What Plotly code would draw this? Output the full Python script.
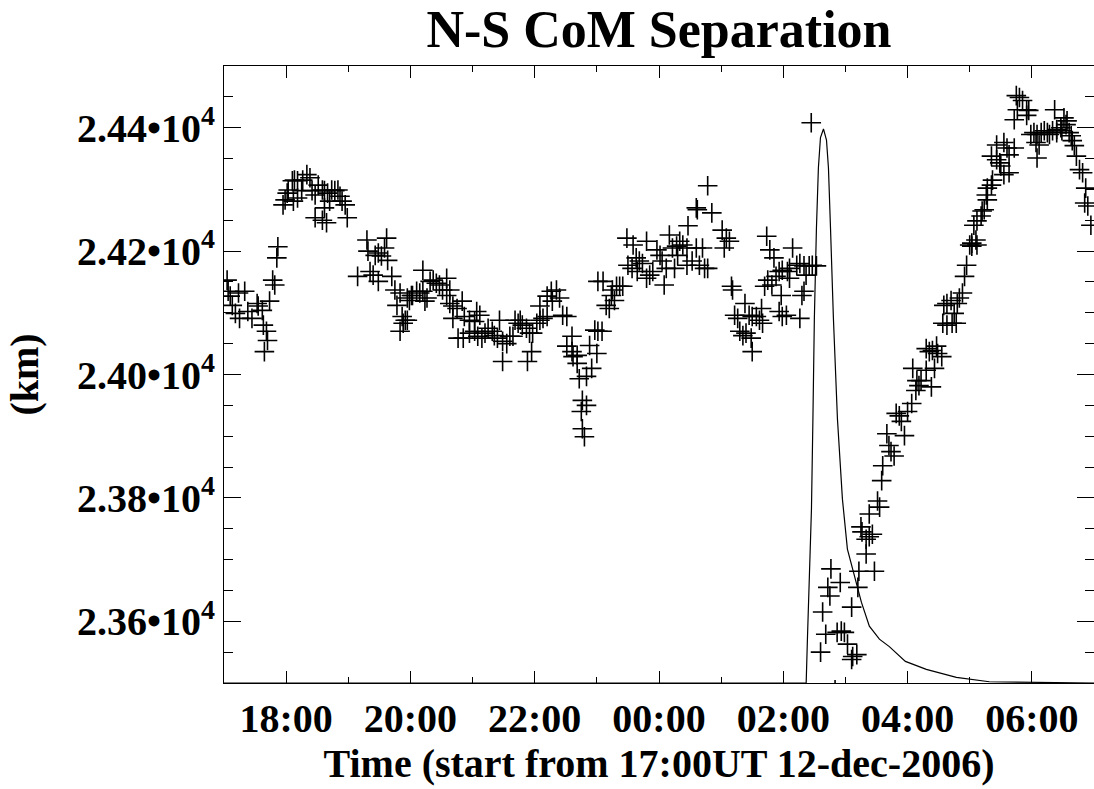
import pandas as pd
import plotly.graph_objects as go

START = pd.Timestamp("2006-12-12 17:00")

# N-S centre-of-mass separation samples: minutes after 17:00 UT, value in km
sep_minutes = [
    3, 4, 6, 14, 20, 8, 11, 15, 23, 27, 32, 33, 37, 38, 41, 42, 39, 44, 47, 49, 51, 52,
    57, 59, 61, 62, 66, 68, 71, 76, 80, 83, 67, 71, 75, 85, 88, 91, 95, 97, 100, 104,
    107, 110, 112, 114, 117, 97, 88, 95, 99, 119, 102,
    138, 139, 146, 149, 152, 157, 155, 158, 129, 141, 144, 149, 162, 165, 167, 172,
    175, 177, 170, 181, 179,
    173, 170, 177, 182, 186, 189, 192, 196, 194, 192, 199, 202, 205, 208, 215, 211,
    218, 215, 218, 221, 225, 230, 221, 232, 237, 244, 247, 242, 226, 231, 237, 242,
    245, 249, 252, 255, 259, 261, 264, 266, 269, 273, 276, 279, 281, 284, 286, 288,
    292, 295, 298, 269, 293, 297, 302, 305, 308, 312, 305, 312, 316, 321, 317, 324,
    327, 331, 336, 331, 336, 337, 341, 341, 343, 350, 355, 353, 360, 358, 361, 346,
    350, 345, 346, 348,
    361, 365, 366, 369, 372, 374, 375, 379, 382, 385, 377, 389, 395, 390, 394, 398,
    401, 404, 408, 399, 408, 411, 414, 418, 421, 423, 427, 425, 430, 433, 437, 438,
    440, 443, 447, 435, 447, 452, 448, 456, 457, 471, 467, 456, 462, 459, 464, 467,
    481, 485, 488, 483, 490, 491, 503, 493, 496, 498, 501, 504, 509, 507, 510, 514,
    517, 520, 519, 510, 522, 525, 529, 533, 536, 539, 538, 536, 539, 524, 527, 531,
    549, 544, 546, 553, 556, 560, 565, 568, 572, 546, 556, 558, 560, 562, 543, 567,
    578, 586, 595, 583, 585, 612, 606, 581, 592, 596, 599, 602, 576, 607, 611, 606, 590,
    631, 633, 623, 615, 616, 623, 626, 620, 620, 613, 628,
    635, 636, 640, 642, 644, 647, 657, 649, 652, 654, 660, 664, 665, 668, 671, 669,
    673, 678, 683, 686, 678, 681, 684, 688, 689, 693, 694, 698, 703, 707, 695, 698,
    702, 705, 708, 713, 715, 717, 722, 722, 727, 726, 724, 727, 731, 734, 737,
    710, 720, 732, 736, 737, 741, 742,
    741, 746, 749, 750, 753, 758, 746, 753, 756, 763, 758, 763, 766, 765, 768, 771,
    775, 777, 775, 779, 782, 785, 789, 792, 795, 797, 800, 804, 804, 808, 809, 813,
    811, 802, 814, 816, 818, 819, 821, 823, 826, 829, 832, 831, 834, 837, 784, 787, 785,
]
sep_km = [
    24153, 24135, 24127, 24132, 24135, 24112, 24099, 24091, 24102, 24091, 24115, 24111,
    24104, 24080, 24070, 24055, 24037, 24119, 24153, 24145, 24189, 24207,
    24275, 24283, 24294, 24299, 24314, 24315, 24314, 24315, 24324, 24319, 24281, 24286,
    24298, 24298, 24291, 24307, 24299, 24298, 24294, 24299, 24298, 24299, 24289, 24281,
    24275, 24270, 24254, 24250, 24246, 24254, 24281,
    24218, 24200, 24193, 24197, 24192, 24221, 24205, 24185, 24159, 24167, 24161, 24151,
    24159, 24137, 24112, 24094, 24088, 24088, 24070, 24128, 24120,
    24083, 24132, 24124, 24128, 24135, 24132, 24135, 24124, 24119, 24169, 24151, 24153,
    24148, 24145, 24156, 24137, 24137, 24128, 24115, 24111, 24107, 24119, 24091, 24094,
    24088, 24102, 24096, 24086, 24059, 24059, 24067, 24070, 24062, 24059, 24067, 24075,
    24070, 24063, 24059, 24088, 24054, 24050, 24062, 24062, 24088, 24083, 24088, 24080,
    24075, 24067, 24067, 24021, 24021, 24037, 24083, 24088, 24091, 24094, 24111, 24127,
    24135, 24137, 24119, 24124, 24096, 24094, 24062, 24046, 24037, 24029, 24031, 24018,
    23993, 23997, 24010, 24047, 24034, 24072, 24151, 23958, 23950, 23940, 23912, 23899,
    24070, 24070, 24151, 24112, 24107, 24128, 24137, 24143, 24143, 24143, 24120, 24221,
    24210, 24177, 24172, 24189, 24184, 24180, 24216, 24167, 24156, 24161, 24167, 24202,
    24193, 24184, 24172, 24145, 24226, 24205, 24208, 24193, 24216, 24210, 24205, 24172,
    24177, 24184, 24241, 24270, 24267, 24262, 24306, 24205, 24205, 24177, 24172, 24172,
    24234, 24221, 24216, 24205, 24143, 24137, 24115, 24096, 24091, 24070, 24063, 24067,
    24059, 24096, 24094, 24094, 24088, 24083, 24107, 24037, 24143, 24153, 24145, 24159,
    24167, 24169, 24128, 24102, 24094, 24224, 24202, 24189,
    24205, 24167, 24172, 24177, 24180, 24176, 24176, 24177, 24176, 24156, 24091, 24128,
    24135, 24161, 24096, 24408,
    23615, 23685, 23663, 23655, 23641, 23655, 23623, 23579, 23582, 23584, 23582, 23563,
    23550, 23543, 23546, 23538, 23489,
    23795, 23785, 23774, 23753, 23745, 23737, 23741, 23733, 23709, 23681, 23681,
    23828, 23852, 23904, 23885, 23875, 23868, 23901, 23937, 23933, 23924, 23940, 23953,
    24010, 23974, 23982, 23990, 23990, 24007, 23980, 24010, 24042, 24037, 24039, 24046,
    24034, 24029, 24083, 24080, 24083, 24083, 24112, 24115, 24120, 24099, 24115, 24132,
    24159, 24177, 24208, 24213, 24210, 24218, 24242, 24249, 24257, 24267, 24283,
    24124, 24210, 24265, 24291, 24302, 24307, 24315,
    24354, 24348, 24343, 24338, 24324, 24327, 24372, 24376, 24367, 24367, 24356, 24413,
    24429, 24452, 24449, 24444, 24429, 24428, 24420, 24389, 24392, 24389, 24392, 24395,
    24392, 24389, 24395, 24397, 24392, 24400, 24395, 24405, 24416, 24429, 24411, 24392,
    24387, 24379, 24371, 24354, 24332, 24327, 24302, 24278, 24273, 24242, 24376, 24372, 24351,
]

# Over-plotted light curve (scaled into the km axis)
curve_minutes = [0, 560, 562.1, 563.3, 565.3, 567.2, 568.6, 570.0, 572.0, 573.9, 575.9,
                 578.8, 581.7, 583.6, 585.6, 588.4, 592.3, 597.1, 601.9, 608.7, 615.4,
                 623.1, 632.8, 642.4, 657.9, 678.1, 707.1, 738.9, 840]
curve_km = [23500, 23500, 23500, 23571, 23668, 23782, 23928, 24091, 24237, 24335, 24384,
            24398, 24380, 24335, 24237, 24091, 23928, 23798, 23717, 23673, 23631,
            23592, 23571, 23559, 23535, 23522, 23509, 23502, 23500]

y_tick_vals = [23600, 23800, 24000, 24200, 24400]
y_tick_text = ["2.36•10<sup>4</sup>", "2.38•10<sup>4</sup>", "2.40•10<sup>4</sup>",
               "2.42•10<sup>4</sup>", "2.44•10<sup>4</sup>"]

title_text = "N-S CoM Separation"
x_title = "Time (start from 17:00UT 12-dec-2006)"
y_title = "(km)"

sep_t = [START + pd.Timedelta(minutes=m) for m in sep_minutes]
curve_t = [START + pd.Timedelta(minutes=m) for m in curve_minutes]

FONT = "Liberation Serif"
FIG_W, FIG_H = 1094, 789

fig = go.Figure()
fig.add_trace(go.Scatter(
    x=curve_t, y=curve_km, mode="lines",
    line=dict(color="black", width=1.2), showlegend=False,
))
fig.add_trace(go.Scatter(
    x=sep_t, y=sep_km, mode="markers",
    marker=dict(symbol="cross-thin", size=14, line=dict(color="black", width=1.6)),
    showlegend=False,
))

axis_common = dict(
    showline=True, linecolor="black", linewidth=1, mirror="allticks",
    ticks="inside", tickcolor="black", tickwidth=1,
    showgrid=False, zeroline=False,
    tickfont=dict(family=FONT, size=40, color="black", weight="bold"),
)

fig.update_layout(
    width=FIG_W, height=FIG_H,
    margin=dict(l=224, r=0, t=66, b=106),
    paper_bgcolor="white", plot_bgcolor="white",
    title=dict(text=title_text, x=0.5, xref="paper", xanchor="center",
               y=1 - 11 / FIG_H, yref="container", yanchor="top",
               font=dict(family=FONT, size=52, color="black", weight="bold")),
    xaxis=dict(
        **axis_common, type="date",
        range=[START, START + pd.Timedelta(hours=14)],
        dtick=2 * 3600 * 1000, tickformat="%H:%M", ticklen=12,
        minor=dict(ticks="inside", dtick=3600 * 1000, ticklen=6, tickcolor="black"),
        title=dict(text=x_title, standoff=6,
                   font=dict(family=FONT, size=40, color="black", weight="bold")),
    ),
    yaxis=dict(
        **axis_common, range=[23500, 24500],
        tickmode="array", tickvals=y_tick_vals, ticktext=y_tick_text, ticklen=17,
        minor=dict(ticks="inside", dtick=50, ticklen=9, tickcolor="black"),
        title=dict(text=y_title, standoff=25,
                   font=dict(family=FONT, size=40, color="black", weight="bold")),
    ),
)

# remove the default page margin so the figure sits at the window's top-left corner
fig.write_html("out.html", config={"displayModeBar": False},
               post_script="document.body.style.margin='0';")
